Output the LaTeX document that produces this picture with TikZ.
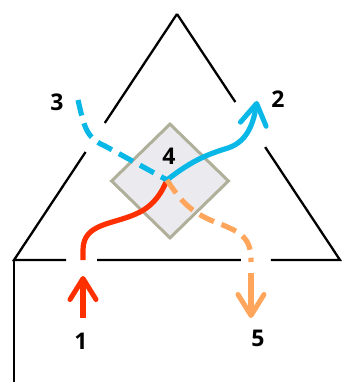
\documentclass[tikz,border=0pt]{standalone}
\usepackage{fontspec}
\setmainfont{Open Sans}
\usetikzlibrary{arrows.meta, calc, shapes.geometric}

\definecolor{inred}{HTML}{FF3000}
\definecolor{upblue}{HTML}{0AB8E8}
\definecolor{outorange}{HTML}{FFA65C}
\definecolor{hubfill}{HTML}{EBEBEF}
\definecolor{hubedge}{HTML}{B0AF9A}

\tikzset{
	wall/.style={line width=2.3pt, black},
	flow/.style={line width=5.2pt},
	flowdash/.style={flow, dash pattern=on 16pt off 8pt},
	tip/.style={-{Straight Barb[length=21pt, width=26pt, line width=5pt, round]}},
	hubbox/.style={diamond, draw=hubedge, fill=hubfill, line width=3pt,
		minimum width=118pt, minimum height=115pt, inner sep=0pt},
	num/.style={font=\fontsize{23}{26}\selectfont\bfseries, inner sep=0pt}
}

\begin{document}
\begin{tikzpicture}[x=1pt, y=-1pt]
	\useasboundingbox (0,0) rectangle (341,382);
	\coordinate (apex) at (177,14); \coordinate (bl) at (14,260);
	\coordinate (br) at (340,260); \coordinate (fl) at (14,382);
	% roof and floor line, broken where the flows pass
	\draw[wall] (apex) -- ($(apex)!.443!(bl)$) ($(apex)!.561!(bl)$) -- (bl)
		-- ($(bl)!.16!(br)$) ($(bl)!.255!(br)$) -- ($(bl)!.696!(br)$)
		($(bl)!.788!(br)$) -- (br) -- ($(br)!.459!(apex)$) ($(br)!.642!(apex)$) -- (apex);
	\draw[wall] (bl) -- (fl);
	\node[hubbox] (hub) at (170,181) {};
	\node[num] (n4) at (169,156) {4};
	\node[num] (n1) at (81,341) {1};
	\node[num] (n2) at (278,99) {2};
	\node[num] (n3) at (57,102) {3};
	\node[num] (n5) at (258,338) {5};
	\coordinate (c) at (167,180);
	\coordinate (r0) at (83,318); \coordinate (r1) at (83,276); \coordinate (r2) at (83,260);
	\coordinate (b0) at (78,100); \coordinate (b1) at (257,101);
	\coordinate (o1) at (251,262); \coordinate (o2) at (251,273); \coordinate (o3) at (251,318);
	% flows
	\draw[flow, inred, tip] (r0) -- (r1);
	\draw[flow, inred] (r2) -- (83,250) .. controls (83,222) and (115,225) .. (140,212)
		.. controls (155,204) and (162,192) .. (c);
	\draw[flowdash, upblue] (b0) .. controls (84,126) and (86,138) .. (105,146) -- (c);
	\draw[flow, upblue, tip] (c) .. controls (190,162) and (205,155) .. (228,148)
		.. controls (246,142) and (253,126) .. (b1);
	\draw[flowdash, outorange] (c) .. controls (180,200) and (190,212) .. (215,222)
		.. controls (245,233) and (251,240) .. (o1);
	\draw[flow, outorange, tip] (o2) -- (o3);
\end{tikzpicture}
\end{document}
